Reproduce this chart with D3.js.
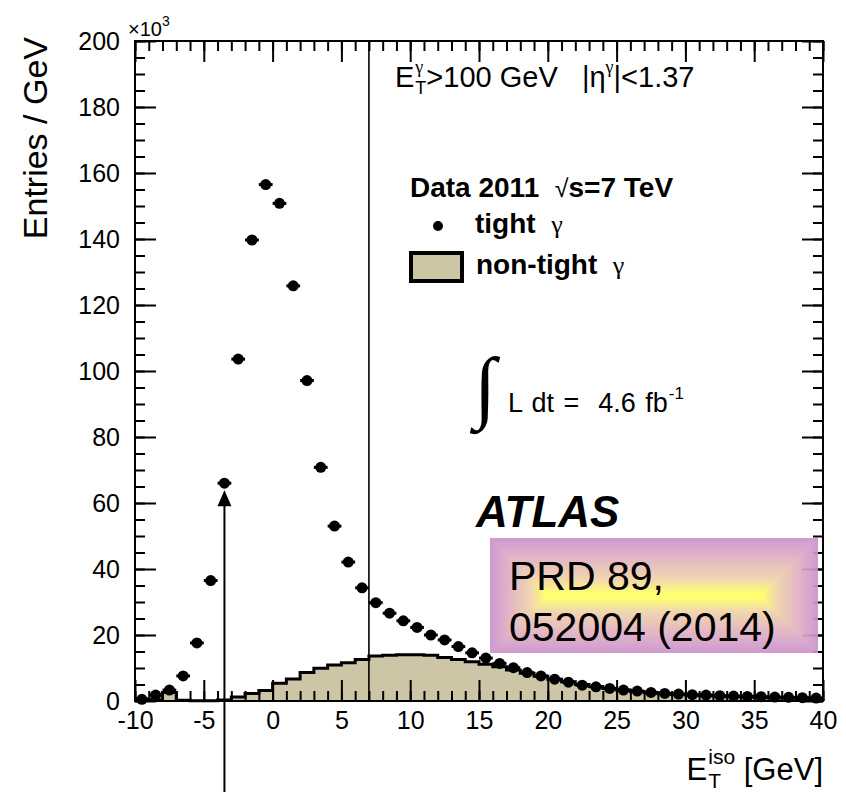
<!DOCTYPE html>
<html>
<head>
<meta charset="utf-8">
<script src="https://cdn.jsdelivr.net/npm/d3@7"></script>
<style>
  html, body { margin: 0; padding: 0; background: #fff; }
  svg { display: block; font-family: "Liberation Sans", Arial, Helvetica, sans-serif; }
</style>
</head>
<body>
<svg id="chart" width="846" height="792"></svg>
<script>
// Tight photon candidates: bin centres [GeV] and entries / GeV [x10^3]
const tightCenters = [-9.5, -8.5, -7.5, -6.5, -5.5, -4.5, -3.5, -2.5, -1.5, -0.5,
  0.5, 1.5, 2.5, 3.5, 4.5, 5.5, 6.5, 7.5, 8.5, 9.5,
  10.5, 11.5, 12.5, 13.5, 14.5, 15.5, 16.5, 17.5, 18.5, 19.5,
  20.5, 21.5, 22.5, 23.5, 24.5, 25.5, 26.5, 27.5, 28.5, 29.5,
  30.5, 31.5, 32.5, 33.5, 34.5, 35.5, 36.5, 37.5, 38.5, 39.5];
const tightValues = [0.5, 1.8, 3.3, 7.6, 17.6, 36.5, 66.0, 103.6, 139.7, 156.5,
  150.8, 125.8, 97.1, 70.8, 53.0, 42.1, 34.3, 29.8, 26.6, 24.3,
  22.3, 20.0, 18.5, 16.5, 14.6, 13.0, 11.4, 10.1, 8.6, 7.6,
  6.6, 5.7, 4.8, 4.3, 3.8, 3.3, 3.0, 2.6, 2.3, 2.1,
  1.9, 1.8, 1.6, 1.5, 1.4, 1.3, 1.2, 1.1, 1.0, 0.9];

// Non-tight template: bin lower edges [GeV] and contents [x10^3]
const nonTightEdges = [-10, -9, -8, -7, -6, -5, -4, -3, -2, -1,
  0, 1, 2, 3, 4, 5, 6, 7, 8, 9,
  10, 11, 12, 13, 14, 15, 16, 17, 18, 19,
  20, 21, 22, 23, 24, 25, 26, 27, 28, 29,
  30, 31, 32, 33, 34, 35, 36, 37, 38, 39];
const nonTightValues = [0.6, 0.4, 2.6, 0.2, 0.1, 0.1, 0.3, 1.2, 2.3, 3.2,
  5.4, 6.7, 8.6, 9.9, 10.9, 11.6, 12.6, 13.6, 13.9, 14.0,
  14.0, 13.9, 13.2, 12.6, 11.9, 11.1, 10.4, 9.4, 8.4, 7.5,
  6.6, 5.8, 5.0, 4.4, 3.8, 3.3, 2.9, 2.5, 2.2, 2.0,
  1.8, 1.6, 1.5, 1.3, 1.2, 1.1, 1.0, 0.9, 0.8, 0.7];

const xMajorTicks = [-10, -5, 0, 5, 10, 15, 20, 25, 30, 35, 40];
const yMajorTicks = [0, 20, 40, 60, 80, 100, 120, 140, 160, 180, 200];
const xDomain = [-10, 40];
const yDomain = [0, 200];

// isolation cut and the highlighted bin
const isoCut = 7;
const arrowBin = -3.5;

const W = 846, H = 792;
const frame = { left: 135, top: 41, right: 823, bottom: 701 };

const x = d3.scaleLinear().domain(xDomain).range([frame.left, frame.right]);
const y = d3.scaleLinear().domain(yDomain).range([frame.bottom, frame.top]);

const svg = d3.select("#chart");
const fmt = d => String(d);

// ---------- non-tight histogram (filled step) ----------
const histPts = nonTightEdges.map((e, i) => ({ x: e, v: nonTightValues[i] }));
histPts.push({ x: xDomain[1], v: nonTightValues[nonTightValues.length - 1] });

svg.append("path")
  .attr("d", d3.area().curve(d3.curveStepAfter)
    .x(d => x(d.x)).y0(y(0)).y1(d => y(d.v))(histPts))
  .attr("fill", "#ccc5a6");

svg.append("path")
  .attr("d", d3.line().curve(d3.curveStepAfter)
    .x(d => x(d.x)).y(d => y(d.v))(histPts))
  .attr("fill", "none")
  .attr("stroke", "#000")
  .attr("stroke-width", 3);

// ---------- cut line ----------
svg.append("line")
  .attr("x1", x(isoCut)).attr("x2", x(isoCut))
  .attr("y1", y(yDomain[1])).attr("y2", y(0))
  .attr("stroke", "#000").attr("stroke-width", 1.6);

// ---------- axes (ticks inside the frame) ----------
function styleAxis(g) {
  g.select(".domain").remove();
  g.selectAll(".tick line").attr("stroke", "#000").attr("stroke-width", 2);
  g.selectAll(".tick text").attr("fill", "#000").attr("font-size", 25)
    .attr("font-family", "'Liberation Sans', Arial, sans-serif");
}
const xMinor = d3.range(xDomain[0], xDomain[1] + 1, 1);
const yMinor = d3.range(yDomain[0], yDomain[1] + 1, 5);

svg.append("g").attr("transform", `translate(0,${frame.bottom})`)
  .call(d3.axisBottom(x).tickValues(xMinor).tickSizeInner(-10).tickSizeOuter(0).tickFormat(""))
  .call(styleAxis);
svg.append("g").attr("transform", `translate(0,${frame.bottom})`)
  .call(d3.axisBottom(x).tickValues(xMajorTicks).tickSizeInner(-21).tickSizeOuter(0)
    .tickPadding(10).tickFormat(fmt))
  .call(styleAxis);
svg.append("g").attr("transform", `translate(0,${frame.top})`)
  .call(d3.axisTop(x).tickValues(xMinor).tickSizeInner(-10).tickSizeOuter(0).tickFormat(""))
  .call(styleAxis);
svg.append("g").attr("transform", `translate(0,${frame.top})`)
  .call(d3.axisTop(x).tickValues(xMajorTicks).tickSizeInner(-21).tickSizeOuter(0).tickFormat(""))
  .call(styleAxis);

svg.append("g").attr("transform", `translate(${frame.left},0)`)
  .call(d3.axisLeft(y).tickValues(yMinor).tickSizeInner(-10).tickSizeOuter(0).tickFormat(""))
  .call(styleAxis);
svg.append("g").attr("transform", `translate(${frame.left},0)`)
  .call(d3.axisLeft(y).tickValues(yMajorTicks).tickSizeInner(-21).tickSizeOuter(0)
    .tickPadding(15).tickFormat(fmt))
  .call(styleAxis);
svg.append("g").attr("transform", `translate(${frame.right},0)`)
  .call(d3.axisRight(y).tickValues(yMinor).tickSizeInner(-10).tickSizeOuter(0).tickFormat(""))
  .call(styleAxis);
svg.append("g").attr("transform", `translate(${frame.right},0)`)
  .call(d3.axisRight(y).tickValues(yMajorTicks).tickSizeInner(-21).tickSizeOuter(0).tickFormat(""))
  .call(styleAxis);

// frame
svg.append("rect")
  .attr("x", frame.left).attr("y", frame.top)
  .attr("width", frame.right - frame.left).attr("height", frame.bottom - frame.top)
  .attr("fill", "none").attr("stroke", "#000").attr("stroke-width", 2);

// ---------- tight data points ----------
const gPts = svg.append("g");
gPts.selectAll("line").data(tightValues).join("line")
  .attr("x1", (d, i) => x(tightCenters[i] - 0.5))
  .attr("x2", (d, i) => x(tightCenters[i] + 0.5))
  .attr("y1", d => y(d)).attr("y2", d => y(d))
  .attr("stroke", "#000").attr("stroke-width", 3);
gPts.selectAll("circle").data(tightValues).join("circle")
  .attr("cx", (d, i) => x(tightCenters[i]))
  .attr("cy", d => y(d))
  .attr("r", 5.5)
  .attr("fill", "#000");

// ---------- arrow pointing at the highlighted bin ----------
const arrowIdx = tightCenters.indexOf(arrowBin);
const ax = x(arrowBin);
const tipY = y(tightValues[arrowIdx]) + 7;
svg.append("line")
  .attr("x1", ax).attr("x2", ax).attr("y1", H).attr("y2", tipY + 10)
  .attr("stroke", "#000").attr("stroke-width", 2);
svg.append("path")
  .attr("d", `M${ax},${tipY}L${ax - 7},${tipY + 16}L${ax + 7},${tipY + 16}Z`)
  .attr("fill", "#000");

// ---------- rich text helper (sub/superscripts) ----------
function rich(parent, x0, y0, parts, anchor) {
  const g = parent.append("g");
  let cx = 0;
  parts.forEach(p => {
    const items = Array.isArray(p) ? p : [p];
    let maxW = 0;
    items.forEach(q => {
      const t = g.append("text")
        .attr("x", cx + (q.dx || 0)).attr("y", q.dy || 0)
        .attr("font-size", q.size)
        .attr("fill", "#000")
        .style("white-space", "pre")
        .text(q.t);
      if (q.weight) t.attr("font-weight", q.weight);
      if (q.style) t.attr("font-style", q.style);
      if (q.family) t.attr("font-family", q.family);
      if (q.ws) t.attr("word-spacing", q.ws);
      maxW = Math.max(maxW, (q.dx || 0) + t.node().getComputedTextLength());
    });
    cx += maxW;
  });
  const shift = anchor === "end" ? -cx : 0;
  g.attr("transform", `translate(${x0 + shift},${y0})`);
  return g;
}

const serif = "'Liberation Serif', 'Times New Roman', serif";

// y-axis title and exponent
svg.append("text")
  .attr("transform", `translate(47,37) rotate(-90)`)
  .attr("text-anchor", "end")
  .attr("font-size", 34)
  .text("Entries / GeV");
rich(svg, 128, 36, [
  { t: "×10", size: 20 },
  { t: "3", size: 14, dy: -10 }
]);

// x-axis title
rich(svg, frame.right, 780, [
  { t: "E", size: 31 },
  [{ t: "iso", size: 21, dy: -16, dx: 1 }, { t: "T", size: 21, dy: 8, dx: 1 }],
  { t: " [GeV]", size: 31 }
], "end");

// selection text
rich(svg, 395, 87, [
  { t: "E", size: 29 },
  [{ t: "γ", size: 18, dy: -14, dx: 1, family: serif }, { t: "T", size: 18, dy: 7, dx: 1 }],
  { t: ">100 GeV   |η", size: 29 },
  { t: "γ", size: 18, dy: -14, family: serif },
  { t: "|<1.37", size: 29 }
]);

// legend
rich(svg, 410, 197, [
  { t: "Data 2011  ", size: 28, weight: "bold" },
  { t: "√", size: 25 },
  { t: "s=7 TeV", size: 28, weight: "bold" }
]);
svg.append("circle").attr("cx", 438).attr("cy", 226).attr("r", 5).attr("fill", "#000");
rich(svg, 475, 233, [
  { t: "tight  ", size: 28, weight: "bold" },
  { t: "γ", size: 26, family: serif }
]);
svg.append("rect")
  .attr("x", 411).attr("y", 253).attr("width", 51).attr("height", 28)
  .attr("fill", "#ccc5a6").attr("stroke", "#000").attr("stroke-width", 4);
rich(svg, 476, 274, [
  { t: "non-tight  ", size: 28, weight: "bold" },
  { t: "γ", size: 26, family: serif }
]);

// luminosity
svg.append("text")
  .attr("x", 474).attr("y", 413)
  .attr("font-size", 80).attr("font-family", serif)
  .text("∫");
rich(svg, 508, 412, [
  { t: "L dt =  4.6 fb", size: 27, ws: 2 },
  { t: "-1", size: 17, dy: -13, dx: 1 }
]);

// experiment label
svg.append("text")
  .attr("x", 476).attr("y", 527)
  .attr("font-size", 44).attr("font-weight", "bold").attr("font-style", "italic")
  .text("ATLAS");

// ---------- reference box with rectangular gradient ----------
const box = { x: 490, y: 538, w: 328, h: 115 };
const ringColor = d3.scaleLinear()
  .domain([0, 0.3, 0.75, 1])
  .range(["rgb(204,148,206)", "rgb(222,172,196)", "rgb(240,212,168)", "rgb(255,255,100)"])
  .interpolate(d3.interpolateRgb);
const nRings = 24;
const gBox = svg.append("g").attr("opacity", 0.92);
const ringStep = (box.h / 2 - 1) / nRings;
d3.range(nRings).forEach(i => {
  gBox.append("rect")
    .attr("x", box.x + i * ringStep).attr("y", box.y + i * ringStep)
    .attr("width", box.w - 2 * i * ringStep).attr("height", box.h - 2 * i * ringStep)
    .attr("fill", ringColor(i / (nRings - 1)));
});
svg.append("text").attr("x", 509).attr("y", 590).attr("font-size", 41).attr("fill", "#000").text("PRD 89,");
svg.append("text").attr("x", 509).attr("y", 641).attr("font-size", 41).attr("fill", "#000").text("052004 (2014)");
</script>
</body>
</html>
